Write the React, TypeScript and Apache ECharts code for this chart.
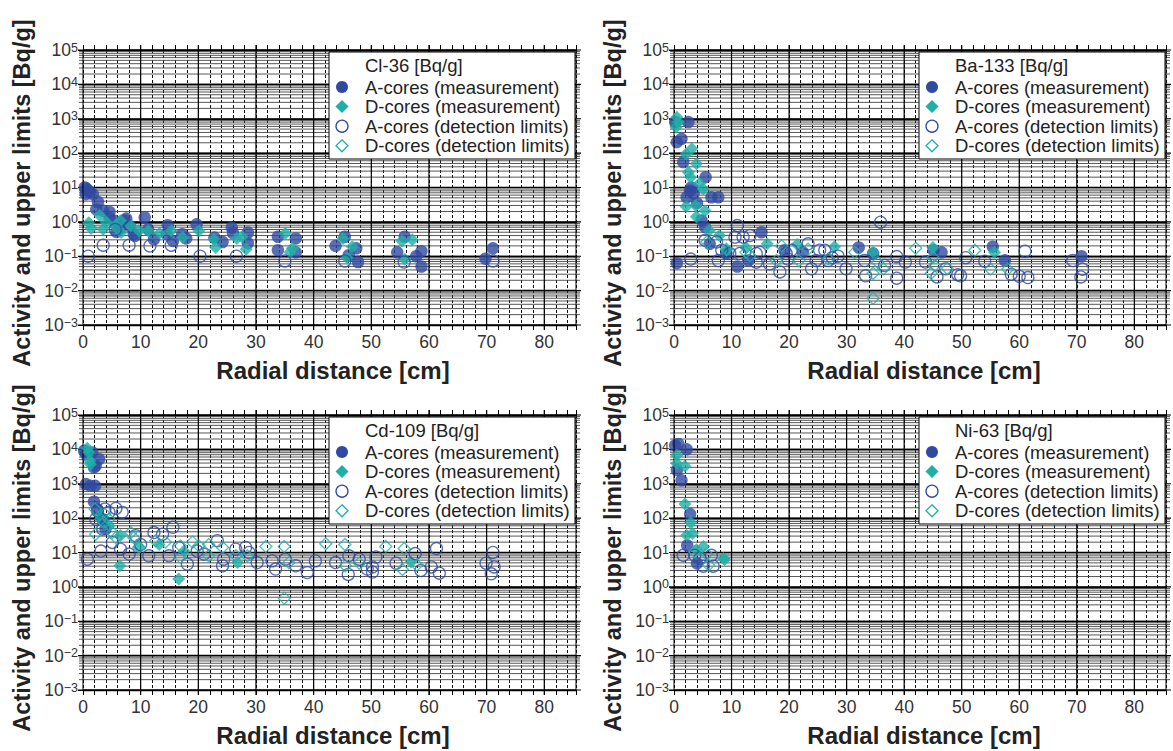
import React, { useEffect, useRef } from "react";
import * as echarts from "echarts";

const BLUE = "#2f4aa0";
const TEAL = "#1db0a6";
const FONT = "Liberation Sans, Arial, Helvetica, sans-serif";

const panelTitles = ["Cl-36 [Bq/g]", "Ba-133 [Bq/g]", "Cd-109 [Bq/g]", "Ni-63 [Bq/g]"];
const seriesNames = [
  "A-cores (measurement)",
  "D-cores (measurement)",
  "A-cores (detection limits)",
  "D-cores (detection limits)",
];
const xTickLabels = [0, 10, 20, 30, 40, 50, 60, 70, 80];
const xMajor = [10, 20, 30, 40, 50, 60, 70, 80];
const decades = [-3, -2, -1, 0, 1, 2, 3, 4];
const minorMantissa = [2, 3, 4, 5, 6, 7, 8, 9];

// ---- Cl-36
const cl36AMeas = [
  [0.3, 10], [0.6, 9.3], [0.5, 6.4], [1.2, 7.5], [1.7, 6.4], [0.9, 8], [2.6, 3.8], [2.3, 2.3],
  [3.5, 2.1], [4.6, 1.95], [4.6, 1.3], [5.5, 1.07], [5.8, 0.51], [6.4, 0.64], [7.2, 1.1], [7.5, 1.25],
  [8.1, 0.76], [8.8, 0.44], [9.0, 0.39], [10.7, 1.34], [11.3, 0.61], [12.3, 0.31], [14.7, 0.8],
  [14.5, 0.44], [15.6, 0.28], [17.2, 0.44], [17.9, 0.33], [19.7, 0.85], [22.8, 0.35], [24.2, 0.26],
  [25.8, 0.68], [26, 0.47], [28.6, 0.49], [28.6, 0.24], [33.8, 0.37], [33.8, 0.15], [36.9, 0.33],
  [36.9, 0.13], [43.8, 0.2], [45.4, 0.37], [47.4, 0.17], [46.1, 0.107], [47.7, 0.068], [54.5, 0.13],
  [55.8, 0.37], [57.8, 0.1], [58.7, 0.14], [58.7, 0.05], [69.8, 0.085], [71.1, 0.17],
];
const cl36DMeas = [
  [1.0, 0.95], [1.4, 0.64], [2.9, 1.56], [3.5, 0.61], [4.0, 1.0], [5.5, 0.76], [6.5, 1.07], [6.6, 0.49],
  [8.3, 0.76], [9.7, 0.55], [11.3, 0.55], [13.3, 0.47], [15.3, 0.55], [17.3, 0.35], [20.1, 0.55],
  [22.7, 0.31], [23.0, 0.18], [26.7, 0.33], [27.6, 0.37], [28.3, 0.16], [35.1, 0.47], [36.3, 0.17],
  [35.9, 0.13], [45.1, 0.33], [46.7, 0.19], [45.8, 0.09], [55.3, 0.28], [57.1, 0.3], [55.8, 0.082],
];
const cl36ADet = [
  [0.9, 0.1], [3.5, 0.21], [5.6, 0.6], [8.0, 0.21], [11.6, 0.2], [15.3, 0.21], [20.3, 0.1],
  [26.6, 0.1], [35.0, 0.073], [45.4, 0.073], [55.7, 0.068], [71.1, 0.073],
];
const cl36DDet: number[][] = [];

// ---- Ba-133
const ba133AMeas = [
  [0.5, 0.063], [0.2, 800], [0.5, 210], [1.3, 260], [2.5, 800], [1.6, 55], [2.2, 5.2], [3.4, 6.6],
  [2.8, 8.1], [3.0, 10], [5.5, 20], [6.5, 5.2], [7.7, 5.2], [4.8, 1.1], [4.0, 3.5], [5.4, 0.7],
  [6.2, 0.23], [9.1, 0.12], [11.0, 0.05], [12.9, 0.075], [15.2, 0.5], [19.2, 0.15], [22.4, 0.13],
  [32.1, 0.18], [34.6, 0.12], [45.1, 0.15], [46.5, 0.13], [55.4, 0.19], [57.5, 0.076], [70.8, 0.1],
];
const ba133DMeas = [
  [0.5, 1100], [0.35, 570], [0.75, 800], [2.1, 95], [3.1, 135], [2.5, 28], [2.9, 20], [3.9, 49],
  [4.4, 13], [5.1, 9.1], [2.1, 2.8], [3.8, 3.0], [3.9, 1.4], [5.4, 2.1], [6.1, 0.56], [7.9, 0.4],
  [9.1, 0.15], [12.5, 0.18], [16.2, 0.23], [21.4, 0.22], [27.9, 0.19], [34.6, 0.13], [45.0, 0.18],
  [55.7, 0.13],
];
const ba133ADet = [
  [2.9, 0.083], [5.4, 0.29], [7.4, 0.26], [7.7, 0.075], [8.3, 0.15], [9.7, 0.12], [11.0, 0.78],
  [10.6, 0.36], [11.4, 0.12], [12.0, 0.36], [13.2, 0.4], [14.3, 0.067], [14.3, 0.12], [14.9, 0.13],
  [16.6, 0.06], [18.4, 0.035], [19.5, 0.12], [19.8, 0.083], [20.4, 0.15], [23.3, 0.23], [23.9, 0.043],
  [24.7, 0.075], [25.3, 0.15], [26.2, 0.15], [26.8, 0.075], [27.5, 0.09], [28.5, 0.1], [29.9, 0.043],
  [33.1, 0.075], [33.3, 0.027], [35.9, 0.98], [36.6, 0.054], [38.7, 0.098], [38.7, 0.023],
  [40.2, 0.068], [43.7, 0.068], [45.7, 0.025], [47.2, 0.043], [49.3, 0.029], [50.7, 0.091],
  [49.8, 0.027], [54.0, 0.072], [58.6, 0.03], [60.0, 0.026], [61.5, 0.024], [61.0, 0.14],
  [69.3, 0.075], [71.0, 0.042], [70.7, 0.025],
];
const ba133DDet = [
  [5.7, 0.26], [9.1, 0.16], [12.5, 0.13], [13.2, 0.105], [17.8, 0.075], [18.7, 0.2], [21.7, 0.074],
  [23.3, 0.16], [26.8, 0.083], [31.4, 0.13], [34.6, 0.032], [34.6, 0.006], [35.4, 0.067],
  [36.4, 0.043], [42.0, 0.17], [44.7, 0.032], [45.0, 0.093], [45.3, 0.054], [47.5, 0.044],
  [52.3, 0.15], [55.0, 0.042], [58.0, 0.042],
];

// ---- Cd-109
const cd109AMeas = [
  [0.2, 9100], [0.5, 7300], [1.6, 8100], [2.8, 5200], [2.2, 3300], [1.9, 3000], [0.5, 980],
  [1.3, 870], [2.1, 870], [1.9, 300], [2.5, 180], [3.4, 93], [3.9, 48],
];
const cd109DMeas = [
  [0.75, 10700], [1.0, 8200], [1.2, 4700], [1.3, 3700], [2.9, 117], [4.5, 60], [6.5, 31], [9.7, 15],
  [13.2, 17], [17.5, 11], [6.4, 4.1], [16.6, 1.7], [26.8, 5.1], [56.9, 5.3],
];
const cd109ADet = [
  [0.75, 6.4], [2.5, 163], [2.2, 93], [3.8, 183], [4.5, 147], [5.7, 191], [6.8, 147], [3.4, 48],
  [3.1, 11], [5.1, 19.6], [6.5, 12.5], [8.0, 9], [9.1, 31], [10.0, 17], [11.4, 8], [12.3, 38],
  [13.8, 34], [15.6, 54], [14.9, 8], [16.6, 14], [18.1, 4.6], [19.8, 11], [21.0, 9], [23.3, 22],
  [24.2, 4.1], [24.4, 6.4], [26.5, 12.5], [28.2, 14], [28.8, 10], [30.2, 5.1], [32.8, 5.7],
  [33.4, 3.3], [35.1, 6.4], [36.9, 4.1], [38.9, 2.6], [40.3, 5.7], [43.8, 5.1], [46.0, 2.3],
  [46.1, 8], [47.9, 6.4], [49.3, 3.3], [50.8, 7.4], [50.2, 2.7], [50.2, 3.8], [54.3, 4.9],
  [57.6, 9.3], [58.6, 3], [60.4, 3.8], [61.3, 13], [61.8, 2.5], [69.9, 4.9], [71.1, 10],
  [71.3, 3.8], [70.8, 2.4],
];
const cd109DDet = [
  [2.1, 183], [2.2, 34], [3.1, 93], [3.8, 131], [3.6, 75], [4.5, 93], [5.1, 38], [5.7, 27],
  [8.3, 38], [8.8, 27], [9.7, 14], [12.6, 22], [14.3, 20], [16.9, 15.6], [16.9, 7.2], [19.0, 20],
  [20.1, 15.6], [21.8, 17], [21.8, 8], [24.2, 14], [26.5, 8], [28.5, 8], [31.7, 15], [34.9, 15],
  [34.9, 0.47], [35.7, 5.1], [42.1, 18], [45.4, 17], [45.5, 4.1], [47.9, 4.9], [52.5, 15],
  [55.7, 13], [55.4, 3.2], [57.9, 4.3],
];

// ---- Ni-63
const ni63AMeas = [
  [0.2, 13000], [0.75, 14400], [2.2, 10000], [0.5, 2500], [1.3, 1260], [2.8, 131], [2.3, 16], [4.0, 4.8],
];
const ni63DMeas = [
  [0.5, 6800], [0.5, 3900], [1.9, 3250], [1.9, 257], [2.9, 73], [2.2, 32], [3.2, 36], [5.1, 15],
  [3.9, 12], [8.6, 6.7], [8.8, 6.3],
];
const ni63ADet = [[1.6, 8.3], [3.6, 8.3], [6.5, 8.3], [5.1, 4], [6.8, 4], [4.5, 6.7]];
const ni63DDet = [[3.6, 10.5], [6.0, 4.3], [5.7, 9]];

const panelData = [
  [cl36AMeas, cl36DMeas, cl36ADet, cl36DDet],
  [ba133AMeas, ba133DMeas, ba133ADet, ba133DDet],
  [cd109AMeas, cd109DMeas, cd109ADet, cd109DDet],
  [ni63AMeas, ni63DMeas, ni63ADet, ni63DDet],
];

const GRIDS = [
  { left: 83, top: 50, width: 493, height: 275 },
  { left: 674, top: 50, width: 492, height: 275 },
  { left: 83, top: 415, width: 493, height: 275 },
  { left: 674, top: 415, width: 492, height: 275 },
];
const X_MAX = 85.5;

const supMap = (e: number) => (e < 0 ? "\u2212" + -e : String(e));

function buildOption() {
  const minorY: number[] = [];
  decades.forEach((d) => minorMantissa.forEach((m) => minorY.push(m * Math.pow(10, d))));
  const majorY = decades.concat([5]).map((d) => Math.pow(10, d));

  const grid: any[] = [];
  const xAxis: any[] = [];
  const yAxis: any[] = [];
  const series: any[] = [];
  const graphic: any[] = [];

  GRIDS.forEach((g, i) => {
    grid.push({ ...g, show: true, borderColor: "#000", borderWidth: 1, backgroundColor: "transparent", z: 3 });
    xAxis.push({
      type: "value", gridIndex: i, min: 0, max: X_MAX, interval: 2, position: "bottom",
      axisLine: { show: false },
      axisTick: { show: true, length: 5, lineStyle: { color: "#000", width: 1 } },
      axisLabel: {
        show: true, margin: 8, color: "#333", fontFamily: FONT, fontSize: 17.5,
        formatter: (v: number) => (xTickLabels.indexOf(v) >= 0 ? String(v) : ""),
      },
      splitLine: { show: true, lineStyle: { color: "#111", width: 1, type: [3, 2] } },
    });
    xAxis.push({
      type: "value", gridIndex: i, min: 0, max: X_MAX, interval: 2, position: "top",
      axisLine: { show: false },
      axisTick: { show: true, length: 5, lineStyle: { color: "#000", width: 1 } },
      axisLabel: { show: false }, splitLine: { show: false },
    });
    yAxis.push({
      type: "log", logBase: 10, gridIndex: i, min: 0.001, max: 100000, splitNumber: 8, position: "left",
      axisLine: { show: false },
      axisTick: { show: true, length: 5, lineStyle: { color: "#000", width: 1 } },
      axisLabel: {
        show: true, margin: 5, fontFamily: FONT,
        formatter: (v: number) => `{b|10}{s|${supMap(Math.round(Math.log10(v)))}}`,
        rich: {
          b: { fontSize: 17.5, color: "#333", fontFamily: FONT, lineHeight: 18 },
          s: { fontSize: 12.5, color: "#333", fontFamily: FONT, lineHeight: 18, verticalAlign: "top", padding: [0, 0, 10, 0] },
        },
      },
      splitLine: { show: true, lineStyle: { color: "#000", width: 1.3 } },
    });
    yAxis.push({
      type: "log", logBase: 10, gridIndex: i, min: 0.001, max: 100000, splitNumber: 8, position: "right",
      axisLine: { show: false },
      axisTick: { show: true, length: 5, lineStyle: { color: "#000", width: 1 } },
      axisLabel: { show: false }, splitLine: { show: false },
    });

    const xi = 2 * i;
    const yi = 2 * i;
    series.push({
      type: "custom", xAxisIndex: xi, yAxisIndex: yi, silent: true, z: 1, clip: false,
      data: minorY.map((v) => [0, v]),
      renderItem: (params: any, api: any) => {
        const y = api.coord([0, api.value(1)])[1];
        const cs = params.coordSys;
        return {
          type: "line",
          shape: { x1: cs.x - 4, y1: y, x2: cs.x + cs.width + 4, y2: y },
          style: { stroke: "#444", lineWidth: 0.9 },
        };
      },
    });
    series.push({
      type: "custom", xAxisIndex: xi, yAxisIndex: yi, silent: true, z: 1, clip: false,
      data: majorY.map((v) => [0, v]),
      renderItem: (params: any, api: any) => {
        const y = api.coord([0, api.value(1)])[1];
        const cs = params.coordSys;
        return {
          type: "line",
          shape: { x1: cs.x - 5, y1: y, x2: cs.x + cs.width + 5, y2: y },
          style: { stroke: "#000", lineWidth: 1.2 },
        };
      },
    });
    series.push({
      type: "custom", xAxisIndex: xi, yAxisIndex: yi, silent: true, z: 1, clip: false,
      data: xMajor.map((v) => [v, 1]),
      renderItem: (params: any, api: any) => {
        const x = api.coord([api.value(0), 1])[0];
        const cs = params.coordSys;
        return {
          type: "line",
          shape: { x1: x, y1: cs.y - 5, x2: x, y2: cs.y + cs.height + 5 },
          style: { stroke: "#000", lineWidth: 1.2 },
        };
      },
    });

    const styles = [
      { symbol: "circle", symbolSize: 12.5, itemStyle: { color: BLUE } },
      { symbol: "diamond", symbolSize: 13, itemStyle: { color: TEAL } },
      { symbol: "circle", symbolSize: 12, itemStyle: { color: "rgba(0,0,0,0)", borderColor: BLUE, borderWidth: 1.3 } },
      { symbol: "diamond", symbolSize: 12, itemStyle: { color: "rgba(0,0,0,0)", borderColor: TEAL, borderWidth: 1.3 } },
    ];
    styles.forEach((st, k) => {
      series.push({
        type: "scatter", name: seriesNames[k], xAxisIndex: xi, yAxisIndex: yi, z: 2 + k,
        data: panelData[i][k], ...st, emphasis: { disabled: true },
      });
    });

    const bx = g.left + g.width - 247;
    const by = g.top + 2;
    graphic.push({
      type: "rect", z: 50, shape: { x: bx, y: by, width: 246, height: 107 },
      style: { fill: "#fff", stroke: "#000", lineWidth: 1 },
    });
    graphic.push({
      type: "text", z: 51, x: bx + 36, y: by + 13,
      style: { text: panelTitles[i], font: `18.5px ${FONT}`, fill: "#222", verticalAlign: "middle", align: "left" },
    });
    const sx = bx + 13;
    for (let k = 0; k < 4; k++) {
      const cy = by + 35 + k * 19.6;
      if (k === 0) graphic.push({ type: "circle", z: 51, shape: { cx: sx, cy, r: 6 }, style: { fill: BLUE } });
      if (k === 1) graphic.push({ type: "polygon", z: 51, shape: { points: [[sx, cy - 6.5], [sx + 6.5, cy], [sx, cy + 6.5], [sx - 6.5, cy]] }, style: { fill: TEAL } });
      if (k === 2) graphic.push({ type: "circle", z: 51, shape: { cx: sx, cy, r: 6 }, style: { fill: "none", stroke: BLUE, lineWidth: 1.3 } });
      if (k === 3) graphic.push({ type: "polygon", z: 51, shape: { points: [[sx, cy - 6], [sx + 6, cy], [sx, cy + 6], [sx - 6, cy]] }, style: { fill: "none", stroke: TEAL, lineWidth: 1.3 } });
      graphic.push({
        type: "text", z: 51, x: bx + 36, y: cy,
        style: { text: seriesNames[k], font: `18.5px ${FONT}`, fill: "#222", verticalAlign: "middle", align: "left" },
      });
    }
    graphic.push({
      type: "text", z: 51, x: g.left + 250, y: g.top + g.height + 45,
      style: { text: "Radial distance [cm]", font: `bold 24px ${FONT}`, fill: "#222", align: "center", verticalAlign: "middle" },
    });
    graphic.push({
      type: "text", z: 51, x: g.left - 61, y: g.top + 143, rotation: Math.PI / 2,
      style: { text: "Activity and upper limits [Bq/g]", font: `bold 23.5px ${FONT}`, fill: "#222", align: "center", verticalAlign: "middle" },
    });
  });

  return { animation: false, backgroundColor: "#fff", grid, xAxis, yAxis, series, graphic };
}

export default function App() {
  const ref = useRef<HTMLDivElement>(null);
  useEffect(() => {
    if (!ref.current) return;
    const chart = echarts.init(ref.current, undefined, { renderer: "svg" });
    chart.setOption(buildOption() as any);
    return () => chart.dispose();
  }, []);
  return <div ref={ref} style={{ position: "fixed", left: 0, top: 0, width: 1173, height: 751, background: "#fff" }} />;
}
